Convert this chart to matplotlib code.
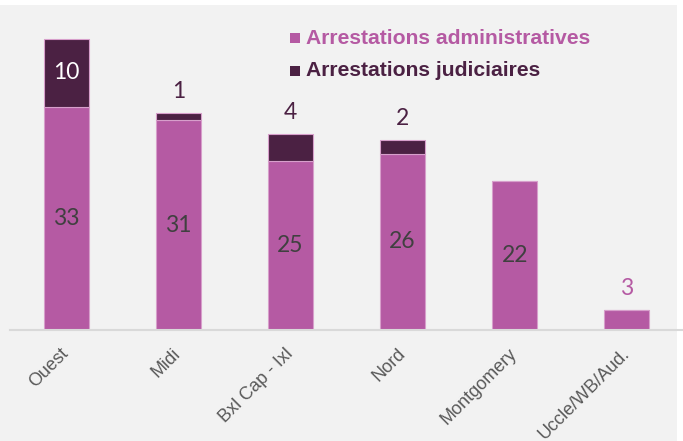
import matplotlib
matplotlib.use("Agg")
import matplotlib.pyplot as plt
from matplotlib.patches import Rectangle
from matplotlib.transforms import ScaledTranslation

categories = ["Ouest", "Midi", "Bxl Cap - Ixl", "Nord", "Montgomery", "Uccle/WB/Aud."]
admin = [33, 31, 25, 26, 22, 3]
judic = [10, 1, 4, 2, 0, 0]
series_names = ["Arrestations administratives", "Arrestations judiciaires"]

c_admin = "#b55aa3"
c_judic = "#4b2143"
c_edge = "#d79fcb"
bg = "#f2f2f2"

fig = plt.figure(figsize=(6.83, 4.41), dpi=100, facecolor="white")
fig.patches.append(Rectangle((0, 0), 677 / 683, 436 / 441, transform=fig.transFigure,
                             facecolor=bg, edgecolor="none", zorder=-10))
ax = fig.add_axes([10 / 683, 111 / 441, 673 / 683, 325 / 441])
ax.set_facecolor("none")

x = list(range(len(categories)))
b1 = ax.bar(x, admin, width=0.4, color=c_admin, edgecolor=c_edge, linewidth=0.8)
b2 = ax.bar(x, judic, width=0.4, bottom=admin, color=c_judic, edgecolor=c_edge, linewidth=0.8)

ax.set_xlim(-0.5, 5.5)
ax.set_ylim(0, 48)
for s in ["top", "right", "left"]:
    ax.spines[s].set_visible(False)
ax.spines["bottom"].set_color("#d9d9d9")
ax.spines["bottom"].set_linewidth(1.5)
ax.set_yticks([])
ax.set_xticks(x)
ax.set_xticklabels(categories, rotation=45, ha="right", va="center",
                   rotation_mode="anchor", fontsize=13, color="#595959",
                   fontfamily="Liberation Sans")
ax.tick_params(axis="x", length=0, pad=0)
off = ScaledTranslation(0 / 100, -21 / 100, fig.dpi_scale_trans)
for lab in ax.get_xticklabels():
    lab.set_transform(lab.get_transform() + off)

numfont = dict(fontfamily="Lato", fontsize=16.5)
for i in x:
    a, j = admin[i], judic[i]
    if a >= 8:
        ax.text(i, a / 2, str(a), ha="center", va="center", color="#404040", **numfont)
    else:
        ax.annotate(str(a), (i, a + j), xytext=(0, 8), textcoords="offset points",
                    ha="center", va="bottom", color=c_admin, **numfont)
    if j > 0:
        if j >= 5:
            ax.text(i, a + j / 2, str(j), ha="center", va="center", color="white", **numfont)
        else:
            ax.annotate(str(j), (i, a + j), xytext=(0, 8), textcoords="offset points",
                        ha="center", va="bottom", color=c_judic, **numfont)

# legend
leg_items = [(series_names[0], c_admin, 38), (series_names[1], c_judic, 71)]
for name, col, yc in leg_items:
    fig.patches.append(Rectangle((290 / 683, 1 - (yc + 5) / 441), 10 / 683, 10 / 441,
                                 transform=fig.transFigure, facecolor=col, edgecolor="none"))
    fig.text(306 / 683, 1 - yc / 441, name, ha="left", va="center", color=col,
             fontsize=15.2, fontweight="bold", fontfamily="Liberation Sans")

fig.savefig("out.png", dpi=100, facecolor="white")
